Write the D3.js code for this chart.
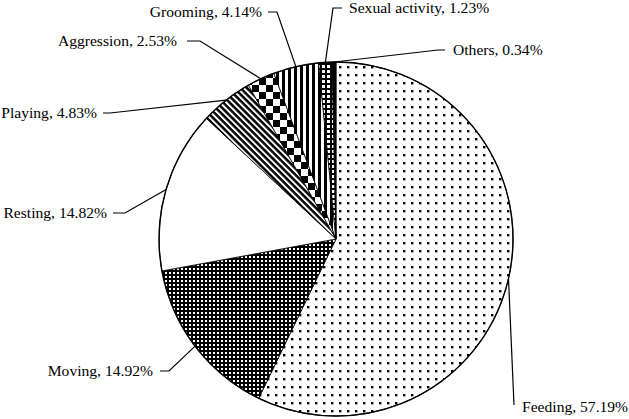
<!DOCTYPE html>
<html>
<head>
<meta charset="utf-8">
<script src="https://cdn.jsdelivr.net/npm/d3@7"></script>
<style>
html,body{margin:0;padding:0;background:#fff;}
svg{display:block;}
text{font-family:"Liberation Serif","Times New Roman",serif;font-size:15.6px;fill:#000;}
</style>
</head>
<body>
<svg id="chart" width="629" height="419"></svg>
<script>
// ---- data ----
const categories = ["Feeding","Moving","Resting","Playing","Aggression","Grooming","Sexual activity","Others"];
const values = [57.19,14.92,14.82,4.83,2.53,4.14,1.23,0.34];
const valueLabels = ["57.19%","14.92%","14.82%","4.83%","2.53%","4.14%","1.23%","0.34%"];

// ---- layout (label placement) ----
const labelLayout = [
  {tx:522, ty:407, anchor:"start", elbow:null, end:[514,405]},
  {tx:153, ty:371, anchor:"end", elbow:[169,371], end:[160,371]},
  {tx:107, ty:213, anchor:"end", elbow:[125,213], end:[113,213]},
  {tx:97,  ty:113, anchor:"end", elbow:[110,113], end:[103,113]},
  {tx:177, ty:41,  anchor:"end", elbow:[200,41], end:[187,41]},
  {tx:262, ty:12,  anchor:"end", elbow:[277,12], end:[268,12]},
  {tx:349, ty:8,   anchor:"start", elbow:[333,8], end:[342,8]},
  {tx:453, ty:50,  anchor:"start", elbow:[438,50], end:[445,50]}
];
const patternIds = ["pFeeding","pMoving","none","pPlaying","pAggression","pGrooming","pSexual","solid"];

const svg = d3.select("#chart");
const cx = 336, cy = 239, R = 177;

// ---- patterns ----
const defs = svg.append("defs");
function pat(id, w, h, transform){
  const p = defs.append("pattern").attr("id", id).attr("patternUnits","userSpaceOnUse")
    .attr("width", w).attr("height", h);
  if (transform) p.attr("patternTransform", transform);
  return p;
}
// Feeding: sparse dots
let p = pat("pFeeding", 8, 8);
p.append("rect").attr("width",8).attr("height",8).attr("fill","#fff");
p.append("rect").attr("x",3).attr("y",3).attr("width",2.4).attr("height",2.4).attr("fill","#000");
// Moving: black with white dots
p = pat("pMoving", 4, 4);
p.append("rect").attr("width",4).attr("height",4).attr("fill","#000");
p.append("rect").attr("x",1).attr("y",1).attr("width",2).attr("height",2).attr("fill","#fff");
// Playing: diagonal stripes
p = pat("pPlaying", 4.5, 4.5, "rotate(45)");
p.append("rect").attr("width",4.5).attr("height",4.5).attr("fill","#fff");
p.append("rect").attr("width",4.5).attr("height",2.5).attr("fill","#000");
// Aggression: checkerboard
p = pat("pAggression", 14, 14);
p.append("rect").attr("width",14).attr("height",14).attr("fill","#fff");
p.append("rect").attr("width",7).attr("height",7).attr("fill","#000");
p.append("rect").attr("x",7).attr("y",7).attr("width",7).attr("height",7).attr("fill","#000");
// Grooming: vertical stripes
p = pat("pGrooming", 6, 6);
p.append("rect").attr("width",6).attr("height",6).attr("fill","#fff");
p.append("rect").attr("width",3).attr("height",6).attr("fill","#000");
// Sexual activity: black with small white squares
p = pat("pSexual", 5, 5);
p.append("rect").attr("width",5).attr("height",5).attr("fill","#000");
p.append("rect").attr("x",1).attr("y",1).attr("width",3).attr("height",3).attr("fill","#fff");

function fillFor(i){
  const id = patternIds[i];
  if (id === "none") return "#fff";
  if (id === "solid") return "#000";
  return "url(#" + id + ")";
}

// ---- pie ----
const pie = d3.pie().sort(null).value(d => d);
const arcs = pie(values);
const arc = d3.arc().innerRadius(0).outerRadius(R);

const g = svg.append("g").attr("transform", `translate(${cx},${cy})`);
g.selectAll("path.slice").data(arcs).join("path")
  .attr("class","slice")
  .attr("d", arc)
  .attr("fill", (d,i) => fillFor(i))
  .attr("stroke","#000")
  .attr("stroke-width",0.8)
  .attr("stroke-linejoin","round");

g.append("circle").attr("r", R).attr("fill","none").attr("stroke","#000").attr("stroke-width",1.4);

// ---- leader lines and labels ----
arcs.forEach((d,i) => {
  const L = labelLayout[i];
  const a = (d.startAngle + d.endAngle) / 2;
  const sx = cx + R * Math.sin(a), sy = cy - R * Math.cos(a);
  const pts = [[sx,sy]];
  if (L.elbow) pts.push(L.elbow);
  pts.push(L.end);
  svg.append("path")
    .attr("d", d3.line()(pts))
    .attr("fill","none").attr("stroke","#000").attr("stroke-width",1.2);
  svg.append("text")
    .attr("x", L.tx).attr("y", L.ty)
    .attr("dy","0.35em")
    .attr("text-anchor", L.anchor)
    .text(categories[i] + ", " + valueLabels[i]);
});
</script>
</body>
</html>
